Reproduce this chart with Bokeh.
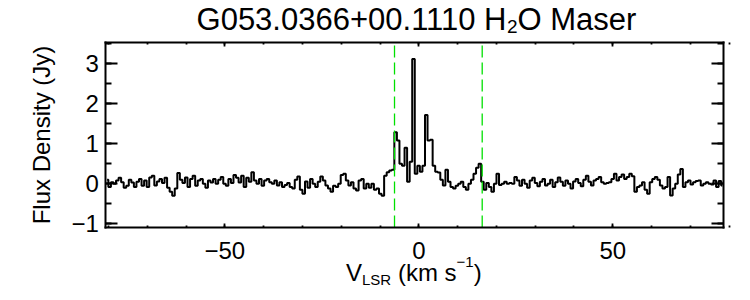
import numpy as np
from math import pi
from bokeh.plotting import figure
from bokeh.models import Range1d, LinearAxis, FixedTicker, Label
from bokeh.embed import file_html
from bokeh.resources import INLINE

FONT = "Liberation Sans"

# spectrum: first channel velocity and channel width (km/s), flux density (Jy)
V0 = -80.34
DV = 0.6581
flux = [
    0.10, -0.08, 0.04, 0.00, 0.08, 0.15, 0.04, -0.10, -0.05, 0.10,
    0.03, -0.08, 0.05, 0.12, -0.05, 0.08, -0.08, 0.16, 0.20, -0.04,
    0.06, 0.12, 0.02, 0.15, -0.10, -0.20, -0.30, -0.12, 0.27, 0.10,
    0.02, 0.16, -0.08, 0.12, 0.20, -0.05, 0.08, 0.12, 0.00, -0.10,
    0.08, 0.03, 0.12, 0.00, 0.10, 0.17, 0.00, -0.05, 0.12, 0.02,
    0.22, 0.15, 0.03, 0.20, -0.08, 0.15, 0.05, 0.29, 0.08, 0.00,
    0.12, -0.05, 0.08, 0.12, 0.04, 0.00, 0.08, -0.04, 0.04, -0.08,
    -0.03, 0.02, -0.08, -0.12, 0.10, 0.18, -0.15, -0.25, 0.06, -0.10,
    0.12, 0.00, -0.08, 0.05, 0.18, 0.08, -0.04, -0.12, -0.20, -0.05,
    -0.08, 0.00, 0.22, 0.25, 0.08, -0.04, 0.04, -0.12, -0.17, 0.08,
    0.12, -0.12, 0.00, -0.10, 0.00, -0.15, -0.12, -0.25, -0.30, 0.20,
    0.29, 0.33, 0.35, 1.29, 1.08, 0.50, 0.45, 0.90, 0.05, 0.55,
    3.12, 0.25, 0.45, 0.30, 0.45, 1.72, 1.08, 1.10, 0.45, 0.30,
    0.28, 0.10, -0.04, 0.35, 0.05, -0.08, -0.12, -0.05, 0.00, 0.05,
    -0.08, -0.15, 0.00, 0.10, 0.25, 0.40, 0.50, 0.05, -0.15, 0.02,
    -0.08, -0.20, 0.00, 0.25, -0.03, 0.00, 0.05, 0.00, 0.02, 0.00,
    0.17, 0.08, -0.05, 0.10, 0.00, -0.10, 0.08, 0.15, 0.02, -0.06,
    0.05, 0.12, -0.04, 0.00, 0.10, -0.08, 0.04, 0.16, 0.05, -0.05,
    0.08, 0.00, -0.12, 0.06, 0.12, 0.02, -0.06, 0.10, 0.20, 0.05,
    -0.04, 0.08, 0.12, 0.17, 0.04, 0.00, 0.02, 0.04, 0.12, 0.25,
    0.08, 0.17, 0.23, 0.12, 0.17, 0.25, 0.19, -0.20, -0.08, -0.04,
    0.04, -0.15, -0.25, 0.04, 0.12, 0.17, 0.10, -0.04, -0.12, -0.08,
    0.17, -0.29, -0.12, 0.00, 0.23, 0.37, -0.08, 0.04, 0.08, -0.02,
    0.04, 0.07, 0.08, -0.04, 0.00, 0.04, 0.00, -0.02, 0.08, -0.08,
    0.07, -0.04,
]
vel = V0 + DV * np.arange(len(flux))

# axis limits of the plot box
XMIN, XMAX = -80.67, 78.60
YMIN, YMAX = -1.09, 3.53

x_major = [-50, 0, 50]
x_minor = [-80, -70, -60, -50, -40, -30, -20, -10, 0, 10, 20, 30, 40, 50, 60, 70, 80]
y_major = [-1, 0, 1, 2, 3]
y_minor = [-1, -0.5, 0, 0.5, 1, 1.5, 2, 2.5, 3, 3.5]
x_tick_labels = {-50: "\u221250", 0: "0", 50: "50"}
y_tick_labels = {-1: "\u22121", 0: "0", 1: "1", 2: "2", 3: "3"}
vlines = [-6.26, 16.34]

W, H = 750, 300
# the frame fills the canvas; the axes sit at fixed locations around the box
p = figure(width=W, height=H, output_backend="svg", toolbar_location=None,
           x_range=Range1d(-107.81, 85.49), y_range=Range1d(-2.9175, 4.5825),
           x_axis_type=None, y_axis_type=None,
           min_border_left=0, min_border_right=0, min_border_top=0, min_border_bottom=0)
p.background_fill_color = "white"
p.border_fill_color = "white"
p.outline_line_color = None


def mk_axis(major, minor, tin, tmin, labels, standoff, loc, bounds):
    ax = LinearAxis(ticker=FixedTicker(ticks=major, minor_ticks=minor),
                    fixed_location=loc, bounds=bounds)
    ax.axis_line_color = "black"
    ax.axis_line_width = 2
    ax.axis_line_cap = "square"
    ax.major_tick_in = tin
    ax.major_tick_out = 0
    ax.minor_tick_in = tmin
    ax.minor_tick_out = 0
    ax.major_tick_line_width = 1.8
    ax.minor_tick_line_width = 1.8
    ax.major_tick_line_color = "black"
    ax.minor_tick_line_color = "black"
    ax.major_label_overrides = labels
    ax.major_label_text_font = FONT
    ax.major_label_text_font_size = "24px"
    ax.major_label_text_color = "black"
    ax.major_label_standoff = standoff
    return ax


p.add_layout(mk_axis(x_major, x_minor, 4, 2, x_tick_labels, 15, YMIN, (XMIN, XMAX)), "below")
p.add_layout(mk_axis(x_major, x_minor, 4, 2, {k: "" for k in x_major}, 2, YMAX, (XMIN, XMAX)), "above")
p.add_layout(mk_axis(y_major, y_minor, 12, 6, y_tick_labels, 7, XMIN, (YMIN, YMAX)), "left")
p.add_layout(mk_axis(y_major, y_minor, 12, 6, {k: "" for k in y_major}, 2, XMAX, (YMIN, YMAX)), "right")

p.step(vel, flux, mode="center", line_color="black", line_width=2)

p.segment(x0=vlines, y0=[YMIN] * len(vlines), x1=vlines, y1=[YMAX] * len(vlines),
          line_color="#00e000", line_width=1.3, line_dash="12 5")


def put(txt, xx, yy, fs, align="left", angle=0.0):
    p.add_layout(Label(x=xx, y=yy, x_units="screen", y_units="screen", text=txt,
                       angle=angle, text_font=FONT, text_font_size=fs, text_align=align,
                       text_baseline="alphabetic", text_color="black"))


# title: G053.0366+00.1110 H2O Maser (screen units from the canvas' bottom-left)
TB = 281.5
SUB = 506.0
put("G053.0366+00.1110 H", SUB, TB, "31px", align="right")
put("2", SUB + 0.5, TB - 7, "19px")
put("O Maser", SUB + 11.0, TB, "31px")

# y axis title
put("Flux Density (Jy)", 41, 165.5, "24px", align="center", angle=pi / 2)

# x axis title: V_LSR (km s^-1)
BASE = 28.5
put("V", 345.5, BASE, "24px")
put("LSR", 361.5, BASE - 7, "15px")
put("(km s", 397.4, BASE, "24px")
put("\u22121", 456.1, BASE + 10, "15px")
put(")", 473.2, BASE, "24px")

open("out.html", "w").write(file_html(p, INLINE))
